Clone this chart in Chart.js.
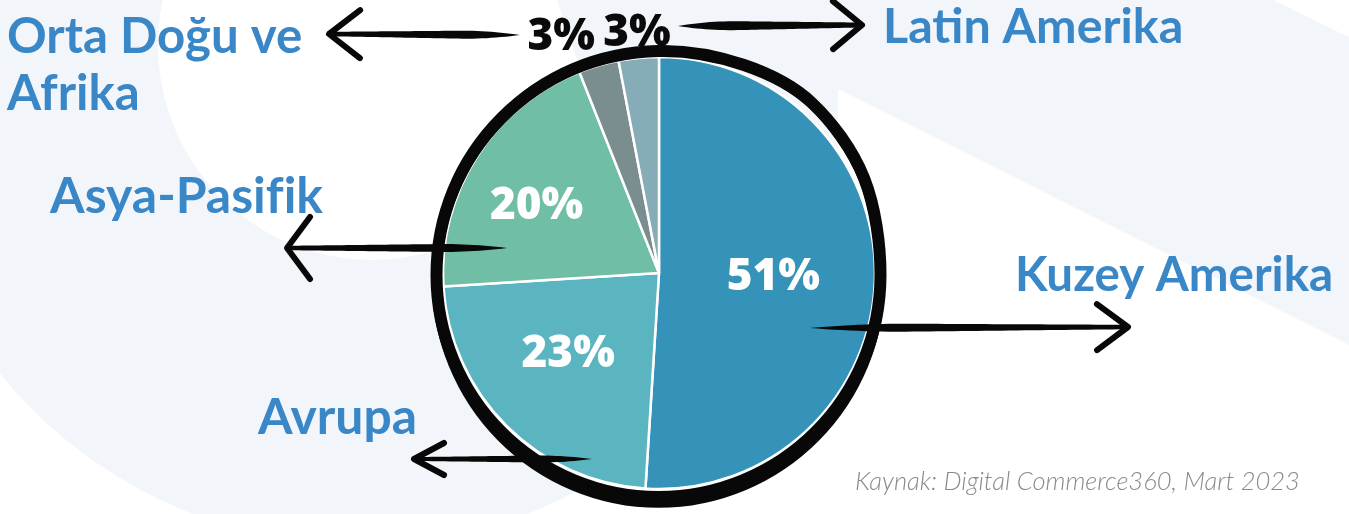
<!DOCTYPE html>
<html lang="tr">
<head>
<meta charset="utf-8">
<title>Bölgelere göre e-ticaret payı</title>
<script src="https://cdn.jsdelivr.net/npm/chart.js@4.4.1/dist/chart.umd.min.js"></script>
<style>
  html, body { margin: 0; padding: 0; background: #fff; }
  #wrap { width: 1349px; height: 514px; }
</style>
</head>
<body>
<div id="wrap"><canvas id="regionChart" width="1349" height="514"></canvas></div>
<script>
// share of sales by region, clockwise from 12 o'clock
const regions = ['Kuzey Amerika', 'Avrupa', 'Asya-Pasifik', 'Orta Doğu ve Afrika', 'Latin Amerika'];
const shares = [51, 23, 20, 3, 3];
const sliceColors = ['#3593b9', '#5ab5c1', '#70bea5', '#7a8e8f', '#86acb7'];
const sourceNote = 'Kaynak: Digital Commerce360, Mart 2023';

const LABEL_BLUE = '#3a87c8';
const BG_TINT = '#f2f5fa';

// where each percentage sits: fraction of radius along the slice middle, then a nudge
const pctPlacement = [
    { k: 0.53, dx: 0, dy: -3, color: '#fff' },
    { k: 0.555, dx: -6, dy: -7, color: '#fff' },
    { k: 0.655, dx: -3, dy: 6, color: '#fff' },
    { k: 1.19, dx: -26, dy: 8, color: '#0a0a0a' },
    { k: 1.13, dx: 1, dy: 0, color: '#0a0a0a' }
];

// region name boxes: left x, first baseline, wanted width of the widest line
const nameLayout = [
    { x: 1015, y: 291, w: 318 },
    { x: 258, y: 434, w: 159 },
    { x: 50, y: 213, w: 273 },
    { x: 7, y: 53, w: 295, lineGap: 57 },
    { x: 883, y: 43, w: 300 }
];

// hand drawn pointers from slice to name
const pointerLayout = [
    { from: [810, 328], to: [1128, 327], back: 31, spread: 23, w: 8 },
    { from: [592, 459], to: [414, 459], back: 30, spread: 16, w: 7 },
    { from: [507, 248], to: [287, 248], back: 23, spread: 31, w: 8 },
    { from: [520, 35], to: [329, 34], back: 31, spread: 24, w: 8 },
    { from: [678, 26], to: [862, 25], back: 29, spread: 24, w: 9 }
];

// ring round the pie, a little pushed out at the top right
const ringPoints = [
    [658.5, 51], [744, 65], [812, 103], [864, 178], [880.5, 275], [863.6, 360],
    [815.5, 432], [743.5, 480], [658.5, 497], [573.5, 480], [501.5, 432], [453.4, 360],
    [436.5, 275], [453.4, 190], [501.5, 118], [573.5, 69]
];

function smoothClosed(ctx, pts) {
    const n = pts.length;
    ctx.beginPath();
    ctx.moveTo(pts[0][0], pts[0][1]);
    for (let i = 0; i < n; i++) {
        const p0 = pts[(i - 1 + n) % n], p1 = pts[i], p2 = pts[(i + 1) % n], p3 = pts[(i + 2) % n];
        ctx.bezierCurveTo(
            p1[0] + (p2[0] - p0[0]) / 6, p1[1] + (p2[1] - p0[1]) / 6,
            p2[0] - (p3[0] - p1[0]) / 6, p2[1] - (p3[1] - p1[1]) / 6,
            p2[0], p2[1]);
    }
    ctx.closePath();
}

function fitFont(ctx, text, style, family, targetW) {
    ctx.font = style + ' 100px ' + family;
    const size = 100 * targetW / ctx.measureText(text).width;
    return style + ' ' + size.toFixed(1) + 'px ' + family;
}

function drawPointer(ctx, p) {
    const [tx, ty] = p.to, [fx, fy] = p.from;
    const len = Math.hypot(fx - tx, fy - ty);
    const ux = (fx - tx) / len, uy = (fy - ty) / len;
    const nx = -uy, ny = ux;
    // tapered shaft: thin near the head, full in the middle, pointed at the tail
    const prof = t => {
        if (t < 0.7) return 0.55 + 0.45 * (t / 0.7);
        return Math.max(0, 1 - Math.pow((t - 0.7) / 0.3, 2));
    };
    const steps = 40, top = [], bot = [];
    for (let i = 0; i <= steps; i++) {
        const t = i / steps;
        const h = p.w / 2 * prof(t);
        const x = tx + ux * len * t, y = ty + uy * len * t;
        top.push([x + nx * h, y + ny * h]);
        bot.push([x - nx * h, y - ny * h]);
    }
    ctx.beginPath();
    ctx.moveTo(top[0][0], top[0][1]);
    top.forEach(q => ctx.lineTo(q[0], q[1]));
    bot.reverse().forEach(q => ctx.lineTo(q[0], q[1]));
    ctx.closePath();
    ctx.fill();

    ctx.beginPath();
    ctx.moveTo(tx + ux * p.back + nx * p.spread, ty + uy * p.back + ny * p.spread);
    ctx.lineTo(tx, ty);
    ctx.lineTo(tx + ux * p.back - nx * p.spread, ty + uy * p.back - ny * p.spread);
    ctx.stroke();
}

const backdrop = {
    id: 'backdrop',
    beforeDraw(chart) {
        const ctx = chart.ctx;
        ctx.save();
        ctx.fillStyle = '#fff';
        ctx.fillRect(0, 0, chart.width, chart.height);
        ctx.fillStyle = BG_TINT;
        ctx.beginPath();
        ctx.arc(360, 81, 464, 0, Math.PI * 2);
        ctx.fill();
        ctx.fillStyle = '#fff';
        ctx.beginPath();
        ctx.ellipse(372, 45, 214, 215, 0, 0, Math.PI * 2);
        ctx.fill();
        ctx.fillStyle = BG_TINT;
        ctx.beginPath();
        [[557, 0], [1273, 0], [1349, 37], [1349, 345], [838, 89], [838, 300], [600, 300], [597, 120]]
            .forEach((q, i) => i ? ctx.lineTo(q[0], q[1]) : ctx.moveTo(q[0], q[1]));
        ctx.closePath();
        ctx.fill();
        ctx.restore();
    }
};

const annotations = {
    id: 'annotations',
    afterDatasetsDraw(chart) {
        const ctx = chart.ctx;
        const arcs = chart.getDatasetMeta(0).data;
        ctx.save();

        // ring: second pass stretched downwards so the bottom reads heavier
        ctx.strokeStyle = '#080808';
        ctx.lineJoin = 'round';
        ctx.lineWidth = 12;
        smoothClosed(ctx, ringPoints);
        ctx.stroke();
        ctx.lineWidth = 10;
        smoothClosed(ctx, ringPoints.map(q => [q[0], 51 + (q[1] - 51) * 1.013]));
        ctx.stroke();

        // pointers
        ctx.fillStyle = '#080808';
        ctx.lineWidth = 6;
        ctx.lineCap = 'round';
        pointerLayout.forEach(p => drawPointer(ctx, p));

        // percentages
        ctx.textAlign = 'center';
        ctx.textBaseline = 'alphabetic';
        ctx.font = '800 44px "Open Sans"';
        arcs.forEach((arc, i) => {
            const { x, y, startAngle, endAngle, outerRadius } = arc.getProps(['x', 'y', 'startAngle', 'endAngle', 'outerRadius'], true);
            const mid = (startAngle + endAngle) / 2;
            const pl = pctPlacement[i];
            const px = x + Math.cos(mid) * outerRadius * pl.k + pl.dx;
            const py = y + Math.sin(mid) * outerRadius * pl.k + pl.dy;
            ctx.fillStyle = pl.color;
            ctx.fillText(shares[i] + '%', px, py + 16);
        });

        // region names
        ctx.textAlign = 'left';
        ctx.fillStyle = LABEL_BLUE;
        regions.forEach((name, i) => {
            const lay = nameLayout[i];
            const lines = name.replace(' ve ', ' ve\n').split('\n');
            const widest = lines.reduce((a, b) => (a.length >= b.length ? a : b));
            ctx.font = fitFont(ctx, widest, 'bold', 'Lato', lay.w);
            lines.forEach((ln, j) => ctx.fillText(ln, lay.x, lay.y + j * (lay.lineGap || 0)));
        });

        // source line
        ctx.fillStyle = '#8a8a8a';
        ctx.font = fitFont(ctx, sourceNote, 'italic 300', 'Lato', 445);
        ctx.fillText(sourceNote, 855, 490);
        ctx.restore();
    }
};

new Chart(document.getElementById('regionChart'), {
    type: 'pie',
    data: {
        labels: regions,
        datasets: [{
            data: shares,
            backgroundColor: sliceColors,
            borderColor: '#ffffff',
            borderWidth: 2.5
        }]
    },
    options: {
        responsive: false,
        animation: false,
        radius: 216,
        layout: { padding: { left: 0, right: 31, top: 32, bottom: 0 } },
        plugins: {
            legend: { display: false },
            tooltip: { enabled: false }
        }
    },
    plugins: [backdrop, annotations]
});
</script>
</body>
</html>
